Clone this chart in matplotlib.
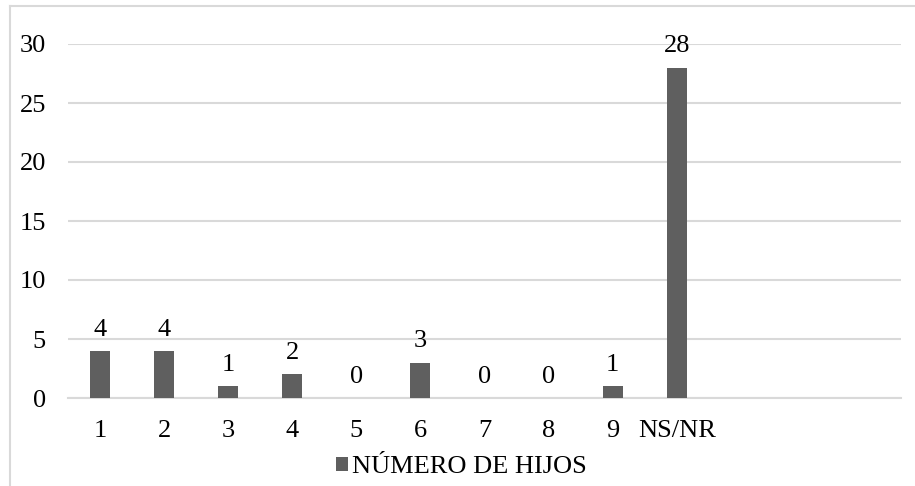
import matplotlib
matplotlib.use("Agg")
import matplotlib.pyplot as plt
from matplotlib.patches import Patch
from matplotlib.lines import Line2D
import numpy as np

categories = ['1', '2', '3', '4', '5', '6', '7', '8', '9', 'NS/NR']
values = [4, 4, 1, 2, 0, 3, 0, 0, 1, 28]
series_name = 'NÚMERO DE HIJOS'
y_ticks = [0, 5, 10, 15, 20, 25, 30]

plt.rcParams['font.family'] = ['Liberation Serif', 'DejaVu Serif']

W, H = 915, 486
FS = 19
fig = plt.figure(figsize=(W / 100, H / 100), dpi=100)
ax = fig.add_axes([68 / W, (H - 398) / H, 833 / W, 354 / H])

bar_color = '#5f5f5f'
grid_color = '#d9d9d9'

x = np.arange(len(categories))
ax.bar(x, values, width=0.31, color=bar_color, zorder=3)

for xi, v in zip(x, values):
    ax.annotate(str(v), (xi, v), xytext=(0, 11), textcoords='offset points',
                ha='center', va='baseline', fontsize=FS, color='#000000')

ax.set_xlim(-0.5, 12.5)
ax.set_ylim(0, 30)
ax.set_yticks(y_ticks)
ax.set_yticklabels([str(t) for t in y_ticks])
ax.set_xticks(x)
ax.set_xticklabels(categories)
ax.tick_params(axis='both', length=0, labelsize=FS, colors='#000000')
ax.tick_params(axis='y', pad=16)
ax.tick_params(axis='x', pad=16)

ax.grid(axis='y', color=grid_color, linewidth=1.5, zorder=0)
for s in ['top', 'right', 'left']:
    ax.spines[s].set_visible(False)
ax.spines['bottom'].set_color(grid_color)
ax.spines['bottom'].set_linewidth(1.5)
ax.spines['bottom'].set_zorder(2)

handle = Patch(facecolor=bar_color, edgecolor='none')
fig.legend([handle], [series_name], loc='center',
           bbox_to_anchor=(461 / W, 1 - 467 / H), frameon=False,
           fontsize=FS, handlelength=0.45, handleheight=0.45,
           handletextpad=0.15, borderaxespad=0, borderpad=0)

# chart frame (cropped at right and bottom)
fy = 1 - 6 / H
fx = 10 / W
fig.add_artist(Line2D([fx, fx], [0, fy], color=grid_color, linewidth=1.5))
fig.add_artist(Line2D([fx, 1], [fy, fy], color=grid_color, linewidth=1.5))

fig.savefig('out.png', dpi=100, facecolor='white')
